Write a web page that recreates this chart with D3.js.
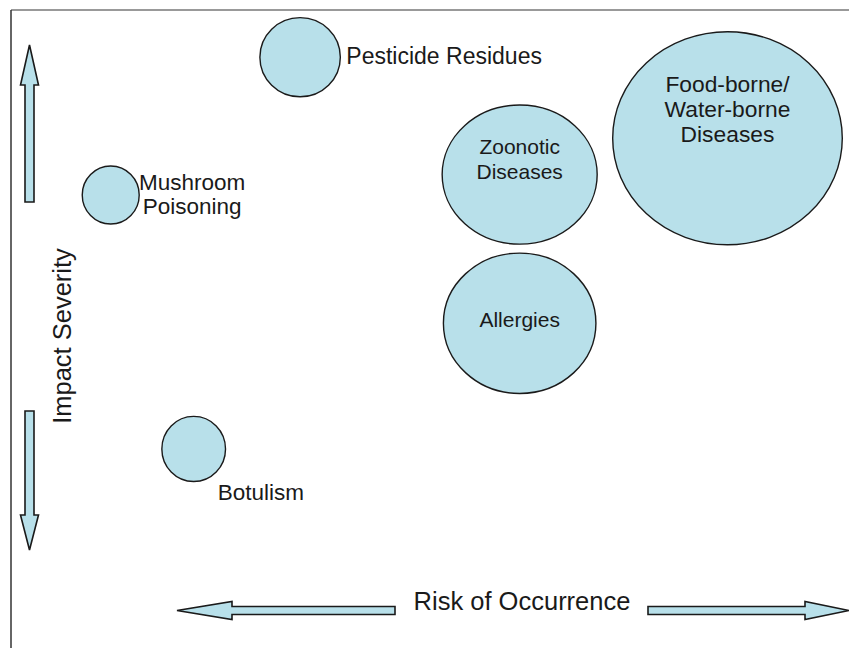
<!DOCTYPE html>
<html>
<head>
<meta charset="utf-8">
<script src="https://cdn.jsdelivr.net/npm/d3@7"></script>
<style>
  body { margin: 0; background: #fff; }
  text { font-family: "Liberation Sans", Arial, Helvetica, sans-serif; fill: #1a1a1a; }
</style>
</head>
<body>
<div id="chart"></div>
<script>
// Hazards: risk of occurrence (x), impact severity (y), both on a 0-100 scale
var hazards = ["Pesticide Residues", "Mushroom Poisoning", "Botulism", "Zoonotic Diseases", "Allergies", "Food-borne/Water-borne Diseases"];
var risk = [34.5, 11.9, 21.8, 60.7, 60.7, 85.5];
var severity = [92.6, 71.0, 31.2, 74.2, 50.9, 79.9];
// half extent of each bubble along each axis (same units)
var riskSpread = [4.8, 3.4, 3.8, 9.25, 9.1, 13.7];
var severitySpread = [6.2, 4.55, 5.1, 10.9, 11.0, 16.7];
var labelLines = [["Pesticide Residues"], ["Mushroom", "Poisoning"], ["Botulism"], ["Zoonotic", "Diseases"], ["Allergies"], ["Food-borne/", "Water-borne", "Diseases"]];
var labelPlace = ["right", "right", "below", "inside", "inside", "inside"];
var xTitle = "Risk of Occurrence";
var yTitle = "Impact Severity";

var W = 849, H = 648;
var frame = {left: 11, top: 10};

var svg = d3.select("#chart").append("svg")
  .attr("width", W)
  .attr("height", H);

var x = d3.scaleLinear().domain([0, 100]).range([frame.left, W]);
var y = d3.scaleLinear().domain([0, 100]).range([H, frame.top]);

// frame lines (only top and left are visible in the picture)
svg.append("line")
  .attr("x1", frame.left).attr("y1", frame.top).attr("x2", W).attr("y2", frame.top)
  .attr("stroke", "#777").attr("stroke-width", 1.5);
svg.append("line")
  .attr("x1", frame.left).attr("y1", frame.top).attr("x2", frame.left).attr("y2", H)
  .attr("stroke", "#333").attr("stroke-width", 1.5);

var data = hazards.map(function (name, i) {
  return {
    name: name,
    cx: x(risk[i]),
    cy: y(severity[i]),
    rx: x(riskSpread[i]) - x(0),
    ry: y(0) - y(severitySpread[i]),
    lines: labelLines[i],
    place: labelPlace[i]
  };
});

var fill = "#b8e0ea";

svg.selectAll(".bubble")
  .data(data)
  .enter().append("ellipse")
  .attr("class", "bubble")
  .attr("cx", function (d) { return d.cx; })
  .attr("cy", function (d) { return d.cy; })
  .attr("rx", function (d) { return d.rx; })
  .attr("ry", function (d) { return d.ry; })
  .attr("fill", fill)
  .attr("stroke", "#1a1a1a")
  .attr("stroke-width", 1.4);

// labels
var lineH = 25;
var fontSize = {"Pesticide Residues": 23, "Zoonotic Diseases": 21, "Allergies": 21, "Food-borne/Water-borne Diseases": 22.8};
var labels = svg.selectAll(".label")
  .data(data)
  .enter().append("text")
  .attr("class", "label")
  .style("font-size", function (d) { return (fontSize[d.name] || 22.5) + "px"; })
  .attr("text-anchor", function (d) { return d.place == "inside" ? "middle" : "start"; });

labels.each(function (d) {
  var t = d3.select(this);
  var n = d.lines.length;
  d.lines.forEach(function (line, j) {
    var tx, ty;
    if (d.place == "inside") {
      tx = d.cx;
      ty = d.cy + 4 - (n - 1 - j) * lineH;
    } else if (d.place == "right") {
      tx = d.cx + d.rx + 6;
      ty = d.cy + 7 - (n - 1) * lineH / 2 + j * (lineH - 1);
    } else {
      tx = d.cx + 24;
      ty = d.cy + d.ry + 19;
    }
    t.append("tspan").attr("x", tx).attr("y", ty).text(line);
  });
});
// Mushroom label lines are centred on each other
labels.filter(function (d) { return d.lines.length > 1 && d.place == "right"; })
  .attr("text-anchor", "middle")
  .selectAll("tspan")
  .attr("x", function () { var d = d3.select(this.parentNode).datum(); return d.cx + d.rx + 53; });

// arrows
function arrowPath(x1, y1, x2, y2, shaft, head, headLen) {
  var dx = x2 - x1, dy = y2 - y1;
  var len = Math.sqrt(dx * dx + dy * dy);
  var ux = dx / len, uy = dy / len;
  var px = -uy, py = ux;
  var bx = x2 - ux * headLen, by = y2 - uy * headLen;
  var pts = [
    [x1 + px * shaft, y1 + py * shaft],
    [bx + px * shaft, by + py * shaft],
    [bx + px * head, by + py * head],
    [x2, y2],
    [bx - px * head, by - py * head],
    [bx - px * shaft, by - py * shaft],
    [x1 - px * shaft, y1 - py * shaft]
  ];
  return d3.line()(pts) + "Z";
}

var arrows = [
  [29.5, 202, 29.5, 45, 4.5, 9, 40],
  [29.5, 411, 29.5, 550, 4.5, 9, 35],
  [395, 610.5, 177, 610.5, 4, 9, 55],
  [648, 610.5, 849, 610.5, 4, 9, 44]
];
svg.selectAll(".arrow")
  .data(arrows)
  .enter().append("path")
  .attr("class", "arrow")
  .attr("d", function (a) { return arrowPath.apply(null, a); })
  .attr("fill", fill)
  .attr("stroke", "#1a1a1a")
  .attr("stroke-width", 1.6)
  .attr("stroke-linejoin", "miter");

// axis titles
svg.append("text")
  .attr("x", 522)
  .attr("y", 610)
  .attr("text-anchor", "middle")
  .style("font-size", "25.5px")
  .text(xTitle);

svg.append("text")
  .attr("transform", "translate(71,336) rotate(-90)")
  .attr("text-anchor", "middle")
  .style("font-size", "25.5px")
  .text(yTitle);
</script>
</body>
</html>
